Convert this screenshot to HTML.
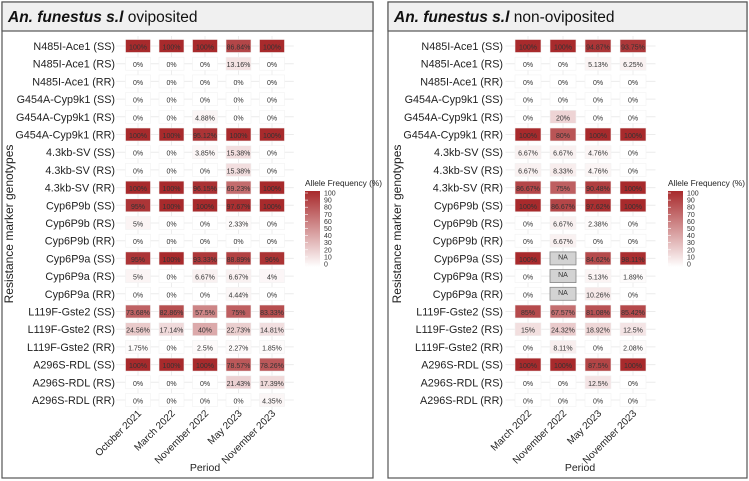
<!DOCTYPE html>
<html><head><meta charset="utf-8"><style>
body{margin:0;background:#fff;}
svg{display:block;font-family:"Liberation Sans",sans-serif;}
</style></head><body>
<svg id="chart" width="749" height="481" viewBox="0 0 749 481">
<defs><linearGradient id="lg" x1="0" y1="1" x2="0" y2="0"><stop offset="0" stop-color="#ffffff"/><stop offset="1" stop-color="#a82a2c"/></linearGradient></defs>
</svg>
<script>
const genotypes=["N485I-Ace1 (SS)","N485I-Ace1 (RS)","N485I-Ace1 (RR)","G454A-Cyp9k1 (SS)","G454A-Cyp9k1 (RS)","G454A-Cyp9k1 (RR)","4.3kb-SV (SS)","4.3kb-SV (RS)","4.3kb-SV (RR)","Cyp6P9b (SS)","Cyp6P9b (RS)","Cyp6P9b (RR)","Cyp6P9a (SS)","Cyp6P9a (RS)","Cyp6P9a (RR)","L119F-Gste2 (SS)","L119F-Gste2 (RS)","L119F-Gste2 (RR)","A296S-RDL (SS)","A296S-RDL (RS)","A296S-RDL (RR)"];
const periodsOvi=["October 2021","March 2022","November 2022","May 2023","November 2023"];
const periodsNon=["March 2022","November 2022","May 2023","November 2023"];
const oviValues=[
[100,100,100,86.84,100],[0,0,0,13.16,0],[0,0,0,0,0],
[0,0,0,0,0],[0,0,4.88,0,0],[100,100,95.12,100,100],
[0,0,3.85,15.38,0],[0,0,0,15.38,0],[100,100,96.15,69.23,100],
[95,100,100,97.67,100],[5,0,0,2.33,0],[0,0,0,0,0],
[95,100,93.33,88.89,96],[5,0,6.67,6.67,4],[0,0,0,4.44,0],
[73.68,82.86,57.5,75,83.33],[24.56,17.14,40,22.73,14.81],[1.75,0,2.5,2.27,1.85],
[100,100,100,78.57,78.26],[0,0,0,21.43,17.39],[0,0,0,0,4.35]];
const nonValues=[
[100,100,94.87,93.75],[0,0,5.13,6.25],[0,0,0,0],
[0,0,0,0],[0,20,0,0],[100,80,100,100],
[6.67,6.67,4.76,0],[6.67,8.33,4.76,0],[86.67,75,90.48,100],
[100,86.67,97.62,100],[0,6.67,2.38,0],[0,6.67,0,0],
[100,null,84.62,98.11],[0,null,5.13,1.89],[0,null,10.26,0],
[85,67.57,81.08,85.42],[15,24.32,18.92,12.5],[0,8.11,0,2.08],
[100,100,87.5,100],[0,0,12.5,0],[0,0,0,0]];
const legendTicks=[0,10,20,30,40,50,60,70,80,90,100];

const NS="http://www.w3.org/2000/svg";
const svg=document.getElementById('chart');
function el(tag,attrs,parent,text){const e=document.createElementNS(NS,tag);for(const k in attrs)e.setAttribute(k,attrs[k]);if(text!==undefined)e.textContent=text;(parent||svg).appendChild(e);return e;}
function col(v){const t=v/100;const r=Math.round(255+(168-255)*t),g=Math.round(255+(42-255)*t),b=Math.round(255+(44-255)*t);return `rgb(${r},${g},${b})`;}
function fmt(v){return (Math.round(v*100)/100)+"%";}

function panel(p){
  const g=el('g',{});
  
  
  const box=el('rect',{x:p.x0,y:2,width:p.x1-p.x0,height:476,fill:'#fff',stroke:'#555','stroke-width':1.2},g);
  
  const hb=el('rect',{x:p.x0,y:2,width:p.x1-p.x0,height:29,fill:'#f0f0f0',stroke:'#555','stroke-width':1.2},g);
  
  const t=el('text',{x:p.x0+6,y:22,'font-size':15.5,fill:'#111'},g);
  
  el('tspan',{'font-weight':'bold','font-style':'italic'},t,'An. funestus s.l');
  el('tspan',{},t,' '+p.suffix);
  const rowY=i=>46+i*17.7;
  const colX=j=>p.cx0+j*p.dx;
  const n=p.periods.length;
  genotypes.forEach((gname,i)=>{
    const gl=el('line',{x1:p.cx0-p.dx/2-5,x2:colX(n-1)+p.dx/2+5,y1:rowY(i),y2:rowY(i),stroke:'#ececec','stroke-width':1},g);
    
  });
  p.periods.forEach((pn,j)=>{
    const gl=el('line',{x1:colX(j),x2:colX(j),y1:36,y2:410,stroke:'#ececec','stroke-width':1},g);
    
  });
  genotypes.forEach((gname,i)=>{
    const lt=el('text',{x:p.lx,y:rowY(i)+4,'font-size':10.8,'text-anchor':'end',fill:'#222'},g,gname);
    
    p.values[i].forEach((v,j)=>{
      const isNA=v===null;
      const r=el('rect',{x:colX(j)-p.cw/2,y:rowY(i)-6.5,width:p.cw,height:13,fill:isNA?'#d3d3d3':col(v),stroke:isNA?'#888':'#f2f2f2','stroke-width':isNA?0.8:0.6},g);
      
      const ct=el('text',{x:colX(j),y:rowY(i)+(isNA?1:3.5),'font-size':7,'text-anchor':'middle',fill:'#333'},g,isNA?'NA':fmt(v));
      
    });
  });
  p.periods.forEach((pn,j)=>{
    const x=colX(j)+4,y=414;
    const xt=el('text',{x:x,y:y,'font-size':10,'text-anchor':'end',fill:'#222',transform:`rotate(-45 ${x} ${y})`},g,pn);
    
  });
  const xa=el('text',{x:p.px,y:471,'font-size':10.5,'text-anchor':'middle',fill:'#222'},g,'Period');
  
  const ya=el('text',{x:p.yx,y:224,'font-size':12,'text-anchor':'middle',fill:'#222',transform:`rotate(-90 ${p.yx} 224)`},g,'Resistance marker genotypes');
  
  const lg=el('g',{},g);
  
  const ltt=el('text',{x:p.legx,y:186,'font-size':8.3,fill:'#222'},lg,'Allele Frequency (%)');
  
  const top=193,bot=264;
  const lb=el('rect',{x:p.legx,y:top-2,width:15,height:bot-top+5,fill:'url(#lg)'},lg);
  
  legendTicks.forEach(tv=>{
    const y=bot-(bot-top)*tv/100;
    const tk=el('line',{x1:p.legx,x2:p.legx+3,y1:y,y2:y,stroke:'#fff','stroke-width':0.6},lg);
    
    const tl=el('text',{x:p.legx+19,y:y+2.5,'font-size':7,fill:'#333'},lg,String(tv));
    
  });
}
panel({name:'oviposited-panel',x0:2,x1:373,suffix:'oviposited',periods:periodsOvi,values:oviValues,cx0:138,dx:33.5,cw:25,lx:115,px:205,yx:13,legx:305});
panel({name:'non-oviposited-panel',x0:388,x1:747,suffix:'non-oviposited',periods:periodsNon,values:nonValues,cx0:528,dx:35,cw:26,lx:503,px:580,yx:401,legx:668});
</script>
</body></html>
